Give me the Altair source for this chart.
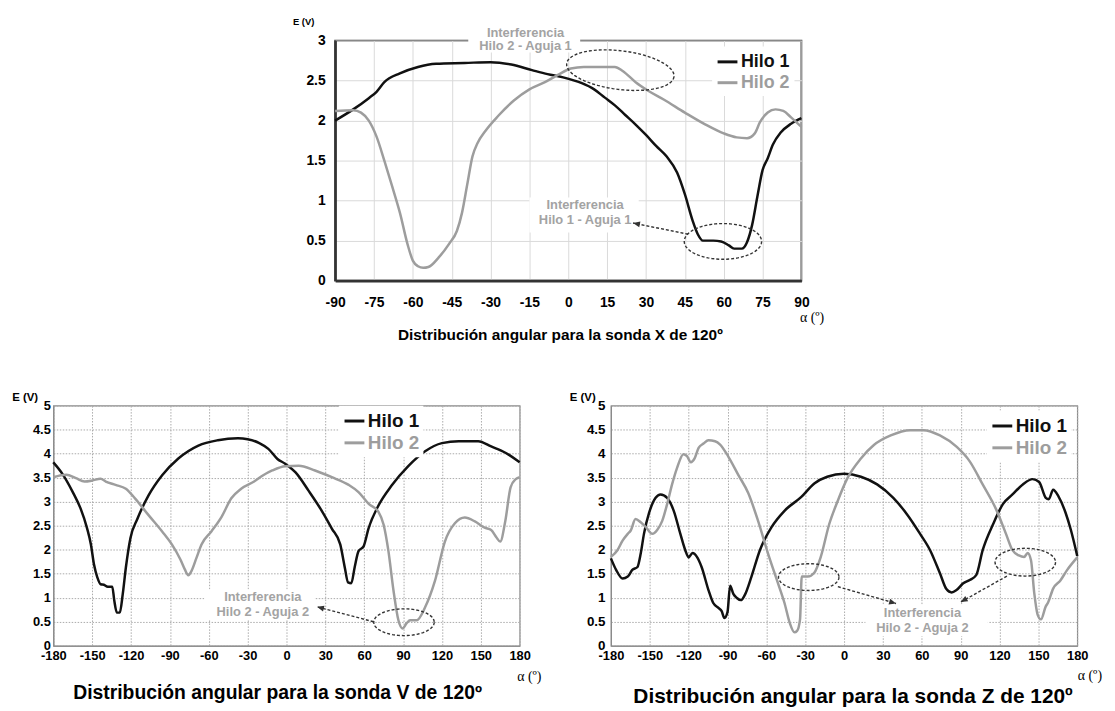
import math
import altair as alt
import pandas as pd

FONT = "Liberation Sans"
SERIF = "Liberation Serif"
BLACK = "#111111"
GRAY = "#9d9d9d"
ANN_GRAY = "#a3a3a3"
DARK = "#333333"
SERIES = ["Hilo 1", "Hilo 2"]

# ---------------- Sonda X (top) ----------------
x_X_h1 = [-90, -83, -77, -74, -71, -65, -58, -51, -40, -30, -22, -14, -8, -2, 5, 10, 14, 18, 22, 26,
          30, 34, 38, 42, 45, 48, 50, 52, 56, 59, 62, 64, 67, 69, 71, 73, 75, 77, 79, 82, 86, 90]
e_X_h1 = [2.00, 2.14, 2.28, 2.36, 2.48, 2.59, 2.67, 2.71, 2.72, 2.73, 2.70, 2.63, 2.58, 2.54, 2.47, 2.39,
          2.29, 2.19, 2.07, 1.95, 1.82, 1.68, 1.55, 1.35, 1.08, 0.75, 0.58, 0.50, 0.50, 0.49, 0.44, 0.40,
          0.40, 0.48, 0.70, 1.05, 1.38, 1.53, 1.70, 1.85, 1.96, 2.03]
x_X_h2 = [-90, -83, -80, -77, -74, -71, -68, -65, -62, -60, -58, -56, -54, -50, -46, -43, -41, -39, -37,
          -35, -32, -27, -21, -15, -9, -4, 1, 6, 12, 18, 21, 26, 31, 37, 45, 53, 60, 65, 69, 72, 74, 77,
          80, 83, 86, 90]
e_X_h2 = [2.12, 2.13, 2.10, 2.00, 1.80, 1.50, 1.18, 0.85, 0.45, 0.25, 0.18, 0.16, 0.17, 0.29, 0.46, 0.62,
          0.85, 1.20, 1.55, 1.72, 1.87, 2.06, 2.25, 2.39, 2.48, 2.57, 2.65, 2.67, 2.67, 2.67, 2.62, 2.48,
          2.37, 2.26, 2.10, 1.95, 1.84, 1.79, 1.78, 1.84, 1.98, 2.10, 2.14, 2.12, 2.04, 1.92]

# ---------------- Sonda V (bottom left) ----------------
x_V_h1 = [-180, -173, -165, -159, -154, -151, -148.6, -146, -143.5, -141, -138, -134.5, -133, -131,
          -128.7, -126.4, -124, -120.5, -115, -106.5, -96, -83.5, -68, -53, -37.5, -30, -21, -14, -7,
          -1, 7, 17, 27, 35, 41.5, 45, 47.5, 50, 52.6, 55.6, 59.5, 63.3, 71, 81, 94, 107, 120, 133,
          148, 158, 169, 180]
e_V_h1 = [3.82, 3.58, 3.20, 2.86, 2.45, 2.11, 1.69, 1.42, 1.28, 1.27, 1.23, 1.23, 0.95, 0.69, 0.69, 1.08,
          1.63, 2.24, 2.65, 3.13, 3.55, 3.90, 4.17, 4.28, 4.32, 4.30, 4.22, 4.10, 3.89, 3.79, 3.61, 3.23,
          2.82, 2.44, 2.11, 1.63, 1.32, 1.30, 1.63, 1.97, 2.07, 2.44, 2.92, 3.33, 3.74, 4.05, 4.22, 4.26,
          4.26, 4.15, 4.02, 3.82]
x_V_h2 = [-180, -170, -162.5, -156, -150, -143.5, -139.5, -132, -124, -117, -106.5, -96, -88.5, -82,
          -78.5, -75.8, -73.3, -69.5, -65.6, -58, -50, -42.6, -35, -25, -18, -11, -1, 9.5, 22, 35, 48,
          55.6, 63.3, 71, 75, 78.7, 82.6, 86.4, 89.5, 92.8, 95.4, 100.5, 107, 114.6, 122.3, 130, 137.7,
          145.4, 153, 158, 162, 165, 169, 173, 177, 180]
e_V_h2 = [3.51, 3.56, 3.49, 3.42, 3.44, 3.48, 3.42, 3.35, 3.27, 3.07, 2.72, 2.38, 2.11, 1.80, 1.59, 1.47,
          1.56, 1.83, 2.11, 2.38, 2.69, 3.07, 3.27, 3.42, 3.55, 3.65, 3.74, 3.75, 3.65, 3.51, 3.35, 3.20,
          2.96, 2.79, 2.52, 1.97, 1.15, 0.53, 0.36, 0.47, 0.53, 0.53, 0.80, 1.35, 2.17, 2.55, 2.67, 2.59,
          2.46, 2.41, 2.26, 2.17, 2.61, 3.30, 3.47, 3.51]

# ---------------- Sonda Z (bottom right) ----------------
x_Z_h1 = [-180, -176, -171, -167, -163.5, -159.5, -157, -154.5, -150.5, -145.5, -141.7, -136.6, -131.5,
          -126.4, -122.6, -120, -117, -113.6, -110, -104.7, -101, -97, -94.5, -92.4, -90, -88, -85.5,
          -83, -79.7, -76.6, -71.5, -65, -56, -46, -33, -23, -13, 0, 13, 25.5, 38, 48.5, 58.7, 66.4, 74,
          79, 83, 86.8, 92, 97, 102, 107, 115, 122.6, 130, 138, 145.5, 150.6, 155.7, 158, 161.4, 165.5,
          171, 175, 180]
e_Z_h1 = [1.82, 1.58, 1.40, 1.44, 1.58, 1.64, 1.92, 2.33, 2.77, 3.08, 3.15, 3.08, 2.81, 2.33, 1.99, 1.84,
          1.93, 1.85, 1.64, 1.16, 0.89, 0.79, 0.72, 0.58, 0.70, 1.25, 1.08, 1.00, 0.95, 1.06, 1.44, 1.99,
          2.47, 2.81, 3.10, 3.38, 3.52, 3.58, 3.52, 3.36, 3.08, 2.74, 2.33, 1.99, 1.51, 1.18, 1.11, 1.16,
          1.30, 1.37, 1.47, 1.99, 2.53, 2.95, 3.15, 3.36, 3.47, 3.41, 3.08, 3.05, 3.25, 3.11, 2.77, 2.42,
          1.87]
x_Z_h2 = [-180, -175, -171, -167, -164.7, -161, -157, -153, -148, -144.3, -140.4, -136.6, -132.8, -129,
          -124, -121.3, -118.3, -115.4, -112.3, -108.5, -104.7, -99.6, -95.7, -89.4, -81.7, -74, -66.4,
          -58.7, -51, -46, -42, -38.3, -36.3, -34, -32.7, -28, -23, -18, -11.5, -5, 2.6, 13, 23, 36, 51,
          61, 74, 87, 97, 107, 117.4, 125, 130, 135, 139, 141.7, 144.3, 146.8, 149.4, 152, 155.7, 157.5,
          161.4, 167, 172, 180]
e_Z_h2 = [1.85, 1.99, 2.19, 2.33, 2.40, 2.64, 2.57, 2.47, 2.33, 2.41, 2.60, 2.95, 3.36, 3.70, 3.99, 3.95,
          3.82, 3.90, 4.12, 4.21, 4.28, 4.26, 4.19, 3.94, 3.56, 3.18, 2.60, 1.92, 1.30, 0.89, 0.48, 0.28,
          0.31, 0.55, 1.44, 1.44, 1.52, 1.85, 2.53, 3.01, 3.49, 3.90, 4.18, 4.38, 4.49, 4.49, 4.38, 4.14,
          3.84, 3.36, 2.84, 2.33, 1.99, 1.88, 1.85, 1.93, 1.78, 1.10, 0.65, 0.55, 0.82, 0.90, 1.19, 1.36,
          1.57, 1.84]

# ---------------- annotations (data coordinates) ----------------
ann_X = {
    "boxes": [(-38.6, 4.6, 2.85, 3.22), (-15.0, 27.2, 0.60, 1.04)],
    "texts": [(-16.5, 3.10, "Interferencia"), (-16.5, 2.93, "Hilo 2 - Aguja 1"),
              (6.5, 0.94, "Interferencia"), (6.5, 0.756, "Hilo 1 - Aguja 1")],
    "ellipses": [(20.1, 2.63), (59.7, 0.49)],
    "arrows": [(46.3, 0.58, 25.0, 0.72)],
}
ann_V = {
    "boxes": [(-63.3, 21.9, 0.55, 1.17)],
    "texts": [(-18.3, 1.02, "Interferencia"), (-18.3, 0.71, "Hilo 2 - Aguja 2")],
    "ellipses": [(90.7, 0.49)],
    "arrows": [(67.2, 0.50, 23.6, 0.81)],
}
ann_Z = {
    "boxes": [(16.5, 111.0, 0.20, 0.85)],
    "texts": [(60.5, 0.68, "Interferencia"), (60.5, 0.37, "Hilo 2 - Aguja 2")],
    "ellipses": [(-27.3, 1.43), (139.9, 1.74)],
    "arrows": [(-4.8, 1.23, 40.1, 0.88), (125.7, 1.45, 90.0, 0.91)],
}
# ellipse sizes in pixels (width, height, tilt)
ell_style_X = [(109, 39, 7), (78, 36, 0)]
ell_style_V = [(61, 27, 0)]
ell_style_Z = [(61, 27, 0), (61, 28, 0)]

W, H = 470, 242


def ellipse_path(w, h, ang, n=64):
    a = math.radians(ang)
    pts = []
    for i in range(n):
        t = 2 * math.pi * i / n
        px, py = w / 2 * math.cos(t), h / 2 * math.sin(t)
        rx = px * math.cos(a) - py * math.sin(a)
        ry = px * math.sin(a) + py * math.cos(a)
        pts.append(f"{rx:.2f},{ry:.2f}")
    return "M" + " L".join(pts) + " Z"


def head_path(ux, uy, L=7.0, hw=3.0):
    bx, by = -L * ux, -L * uy
    p1 = (bx - hw * uy, by + hw * ux)
    p2 = (bx + hw * uy, by - hw * ux)
    return f"M0,0 L{p1[0]:.2f},{p1[1]:.2f} L{p2[0]:.2f},{p2[1]:.2f} Z"


def panel(x1, e1, x2, e2, xdom, xstep, ydom, ystep, ann, ells, c):
    df = pd.DataFrame({"alpha": x1 + x2, "E": e1 + e2,
                       "hilo": ["Hilo 1"] * len(x1) + ["Hilo 2"] * len(x2)})
    xs = alt.Scale(domain=xdom, nice=False, zero=False)
    ys = alt.Scale(domain=ydom, nice=False, zero=False)
    nx = int(round((xdom[1] - xdom[0]) / xstep))
    ny = int(round((ydom[1] - ydom[0]) / ystep))
    xvals = [xdom[0] + i * xstep for i in range(nx + 1)]
    yvals = [round(ydom[0] + i * ystep, 2) for i in range(ny + 1)]
    common = dict(labelFont=FONT, labelFontWeight="bold", labelColor="black",
                  ticks=False, tickSize=0, grid=True, gridColor=c["grid_color"],
                  gridWidth=1, domainColor=c["domain_color"], domainWidth=c["domain_width"],
                  labelExpr="'' + datum.value")
    if c.get("grid_dash"):
        common["gridDash"] = c["grid_dash"]
    xaxis = alt.Axis(values=xvals, labelFontSize=c["xlab_size"], labelPadding=c["xlab_pad"],
                     labelFlush=False, labelOverlap=False,
                     title="α (º)", titleFont=SERIF, titleFontSize=14, titleFontWeight="normal",
                     titleColor="black", titleX=c["alpha_x"], titleY=c["alpha_y"],
                     titleAlign="left", titleBaseline="middle", titleAngle=0, **common)
    yaxis = alt.Axis(values=yvals, labelFontSize=c["ylab_size"], labelPadding=c["ylab_pad"],
                     labelFlush=False, labelOverlap=False,
                     title="E (V)", titleFont=FONT, titleFontSize=c["ev_size"], titleFontWeight="bold",
                     titleColor="black", titleX=c["ev_x"], titleY=c["ev_y"], titleAngle=0,
                     titleAlign="left", titleBaseline="middle", **common)

    def X(f):
        return alt.X(f, type="quantitative", scale=xs, axis=xaxis)

    def Y(f):
        return alt.Y(f, type="quantitative", scale=ys, axis=yaxis)

    bdf = pd.DataFrame(ann["boxes"], columns=["xa", "xb", "ya", "yb"])
    boxes = alt.Chart(bdf).mark_rect(fill="white", stroke=None).encode(
        x=X("xa"), x2="xb", y=Y("ya"), y2="yb")

    legend = alt.Legend(title=None, orient="none", legendX=c["leg_x"], legendY=c["leg_y"],
                        symbolType="stroke", symbolSize=400, symbolStrokeWidth=3,
                        labelFont=FONT, labelFontSize=c["leg_size"], labelFontWeight="bold",
                        labelColor={"expr": f"datum.label == 'Hilo 1' ? '{BLACK}' : '{GRAY}'"},
                        labelOffset=2, labelLimit=300, fillColor="white", padding=4,
                        rowPadding=0)
    lines = alt.Chart(df).mark_line(strokeWidth=2.5, interpolate="monotone").encode(
        x=X("alpha"), y=Y("E"),
        color=alt.Color("hilo:N", scale=alt.Scale(domain=SERIES, range=[BLACK, GRAY]),
                        legend=legend))

    def to_px(xv, yv):
        sx = (xv - xdom[0]) / (xdom[1] - xdom[0]) * W
        sy = H - (yv - ydom[0]) / (ydom[1] - ydom[0]) * H
        return sx, sy

    edf = pd.DataFrame([{"ex": e[0], "ey": e[1], "path": ellipse_path(*s)}
                        for e, s in zip(ann["ellipses"], ells)])
    ellipses = alt.Chart(edf).mark_point(filled=False, color=DARK, strokeWidth=1.4,
                                         strokeDash=[3, 2], opacity=1).encode(
        x=X("ex"), y=Y("ey"), shape=alt.Shape("path:N", scale=None), size=alt.value(4))

    rows = []
    for (xa, ya, xb, yb) in ann["arrows"]:
        pa, pb = to_px(xa, ya), to_px(xb, yb)
        dx, dy = pb[0] - pa[0], pb[1] - pa[1]
        n = math.hypot(dx, dy)
        rows.append({"xa": xa, "ya": ya, "xb": xb, "yb": yb,
                     "path": head_path(dx / n, dy / n)})
    adf = pd.DataFrame(rows)
    arrows = alt.Chart(adf).mark_rule(color=DARK, strokeWidth=1.4, strokeDash=[3, 2]).encode(
        x=X("xa"), y=Y("ya"), x2="xb", y2="yb")
    heads = alt.Chart(adf).mark_point(filled=True, color=DARK, opacity=1, strokeWidth=0).encode(
        x=X("xb"), y=Y("yb"), shape=alt.Shape("path:N", scale=None), size=alt.value(4))

    tdf = pd.DataFrame(ann["texts"], columns=["tx", "ty", "label"])
    texts = alt.Chart(tdf).mark_text(font=FONT, fontSize=13, fontWeight="bold", color=ANN_GRAY,
                                     align="center", baseline="middle").encode(
        x=X("tx"), y=Y("ty"), text="label:N")

    title = alt.TitleParams(text=c["title"], orient="bottom", anchor="middle", frame="group",
                            font=FONT, fontSize=c["title_size"], fontWeight="bold", color="black",
                            offset=c["title_offset"], dx=c["title_dx"], baseline="top")
    return alt.layer(boxes, lines, ellipses, arrows, heads, texts).properties(
        width=W, height=H, title=title,
        view=alt.ViewBackground(stroke=c["view_stroke"], strokeWidth=c["view_width"]))


cfg_X = dict(grid_color="#dadada", domain_color="#333333", domain_width=2.6,
             view_stroke="#444444", view_width=1.8,
             xlab_size=14, xlab_pad=15, ylab_size=14, ylab_pad=10,
             alpha_x=W - 2, alpha_y=37, ev_size=9.5, ev_x=-43, ev_y=-19,
             leg_x=380, leg_y=6, leg_size=18,
             title="Distribución angular para la sonda X de 120º", title_size=15.5,
             title_offset=4, title_dx=-8)
cfg_V = dict(grid_color="#aaaaaa", grid_dash=[1.5, 1.5], domain_color="#8a8a8a", domain_width=1.2,
             view_stroke="#8a8a8a", view_width=1.2,
             xlab_size=13, xlab_pad=4, ylab_size=13, ylab_pad=3,
             alpha_x=W - 3, alpha_y=31, ev_size=11.5, ev_x=-42, ev_y=-8,
             leg_x=288, leg_y=0, leg_size=19,
             title="Distribución angular para la sonda V de 120º", title_size=19.5,
             title_offset=1, title_dx=-9)
cfg_Z = dict(grid_color="#aaaaaa", grid_dash=[1.5, 1.5], domain_color="#8a8a8a", domain_width=1.2,
             view_stroke="#8a8a8a", view_width=1.2,
             xlab_size=13, xlab_pad=4, ylab_size=13.5, ylab_pad=6,
             alpha_x=W, alpha_y=30, ev_size=11.5, ev_x=-42, ev_y=-8,
             leg_x=379, leg_y=5, leg_size=19,
             title="Distribución angular para la sonda Z de 120º", title_size=21,
             title_offset=4, title_dx=9)

top = panel(x_X_h1, e_X_h1, x_X_h2, e_X_h2, [-90, 90], 15, [0, 3], 0.5, ann_X, ell_style_X, cfg_X)
left = panel(x_V_h1, e_V_h1, x_V_h2, e_V_h2, [-180, 180], 30, [0, 5], 0.5, ann_V, ell_style_V, cfg_V)
right = panel(x_Z_h1, e_Z_h1, x_Z_h2, e_Z_h2, [-180, 180], 30, [0, 5], 0.5, ann_Z, ell_style_Z, cfg_Z)

spacer = alt.Chart(pd.DataFrame({"s": [0.5]})).mark_point(opacity=0, size=0).encode(
    x=alt.X("s:Q", axis=None, scale=alt.Scale(domain=[0, 1])),
    y=alt.Y("s:Q", axis=None, scale=alt.Scale(domain=[0, 1]))).properties(
    width=284, height=10, view=alt.ViewBackground(strokeOpacity=0))

top_row = alt.hconcat(spacer, top, spacing=0, bounds="flush").resolve_scale(
    color="independent").resolve_legend(color="independent")
bottom_row = alt.hconcat(left, right, spacing=92, bounds="flush").resolve_scale(
    color="independent").resolve_legend(color="independent")
chart = alt.vconcat(top_row, bottom_row, spacing=46).resolve_scale(
    color="independent").resolve_legend(color="independent").properties(
    padding={"left": 2.7, "top": 5, "right": 4, "bottom": 4},
    background="white")

chart.save("out.html", embed_options={"renderer": "svg", "actions": False})
